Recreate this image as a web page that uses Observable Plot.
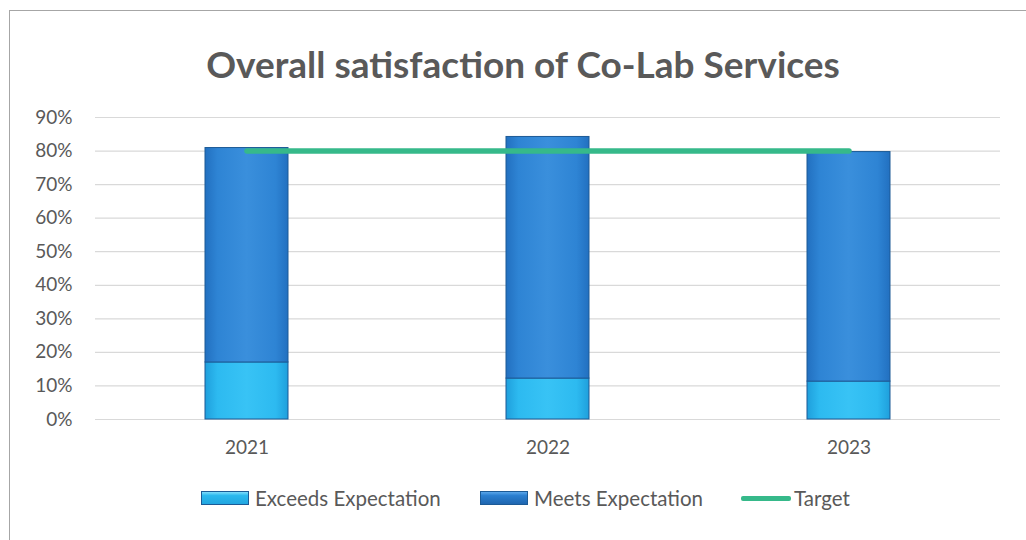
<!DOCTYPE html>
<html>
<head>
<meta charset="utf-8">
<script src="https://cdn.jsdelivr.net/npm/d3@7"></script>
<script src="https://cdn.jsdelivr.net/npm/@observablehq/plot@0.6"></script>
<style>
  body { margin: 0; background: #fff; }
  #wrap { position: relative; width: 1026px; height: 540px; overflow: hidden; font-family: Lato, "Open Sans", sans-serif; }
  #frame { position: absolute; left: 9px; top: 10px; width: 1030px; height: 540px; border: 1px solid #a6a6a6; box-sizing: border-box; }
  #title { position: absolute; left: 0; width: 1046px; top: 41px; line-height: 46px; text-align: center; font-size: 37px; font-weight: 700; color: #595959; }
  #chart { position: absolute; left: 0; top: 90px; }
  #legend { position: absolute; top: 485px; left: 0; width: 1026px; height: 26px; font-size: 20.5px; color: #595959; }
  .item { position: absolute; top: 0; display: flex; align-items: center; height: 26px; white-space: nowrap; }
  .sw { width: 48px; height: 14px; margin-right: 6px; box-sizing: border-box; border: 1px solid #1c5a96; }
  .ln { width: 50px; height: 5px; background: #36b98a; border-radius: 2px; margin-right: 3px; }
</style>
</head>
<body>
<div id="wrap">
  <div id="frame"></div>
  <div id="title">Overall satisfaction of Co-Lab Services</div>
  <div id="chart"></div>
  <div id="legend">
    <div class="item" style="left:201px"><div class="sw" style="background:linear-gradient(to bottom,#7fdcfb,#2bb8ee 30%,#22a6e0)"></div>Exceeds Expectation</div>
    <div class="item" style="left:480px"><div class="sw" style="background:linear-gradient(to bottom,#5aa6ea,#2b7fd0 30%,#1f66b0)"></div>Meets Expectation</div>
    <div class="item" style="left:741px"><div class="ln"></div>Target</div>
  </div>
</div>
<script>
const years = ["2021", "2022", "2023"];
const series = ["Exceeds Expectation", "Meets Expectation"];
const exceeds = [0.17, 0.122, 0.113];
const meets = [0.639, 0.72, 0.684];
const target = [0.8, 0.8, 0.8];
const yTicks = [0, 0.1, 0.2, 0.3, 0.4, 0.5, 0.6, 0.7, 0.8, 0.9];

const rows = [];
years.forEach((yr, i) => {
  rows.push({year: yr, series: series[0], value: exceeds[i]});
  rows.push({year: yr, series: series[1], value: meets[i]});
});
const targetRows = years.map((yr, i) => ({year: yr, value: target[i]}));

const defs = () => {
  const ns = "http://www.w3.org/2000/svg";
  const d = document.createElementNS(ns, "defs");
  d.innerHTML = `
    <linearGradient id="gEx" x1="0" x2="1" y1="0" y2="0">
      <stop offset="0" stop-color="#1f9fdc"/>
      <stop offset="0.15" stop-color="#2dbaf0"/>
      <stop offset="0.5" stop-color="#38c3f5"/>
      <stop offset="0.85" stop-color="#2dbaf0"/>
      <stop offset="1" stop-color="#1f9fdc"/>
    </linearGradient>
    <linearGradient id="gMe" x1="0" x2="1" y1="0" y2="0">
      <stop offset="0" stop-color="#2270c0"/>
      <stop offset="0.15" stop-color="#2e84d4"/>
      <stop offset="0.5" stop-color="#3a8fdc"/>
      <stop offset="0.85" stop-color="#2e84d4"/>
      <stop offset="1" stop-color="#2270c0"/>
    </linearGradient>`;
  return d;
};

const chart = Plot.plot({
  width: 1026,
  height: 374,
  marginTop: 27,
  marginBottom: 45,
  marginLeft: 95,
  marginRight: 26,
  style: {fontFamily: "Lato, 'Open Sans', sans-serif", fontSize: "19px", color: "#595959", background: "transparent"},
  x: {domain: years, paddingInner: 0.725, paddingOuter: 0.3625, label: null, tickSize: 0, tickPadding: 21},
  y: {domain: [0, 0.9], ticks: yTicks, tickFormat: d3.format(".0%"), label: null, tickSize: 0, tickPadding: 23, grid: false},
  color: {domain: series, range: ["url(#gEx)", "url(#gMe)"]},
  marks: [
    defs,
    Plot.ruleY(yTicks, {stroke: "#d9d9d9", strokeWidth: 1.2}),
    Plot.barY(rows, {x: "year", y: "value", fill: "series", stroke: "#1c5a96", strokeWidth: 1, order: series}),
    Plot.lineY(targetRows, {x: "year", y: "value", stroke: "#36b98a", strokeWidth: 5.5})
  ]
});
document.getElementById("chart").appendChild(chart);
</script>
</body>
</html>
